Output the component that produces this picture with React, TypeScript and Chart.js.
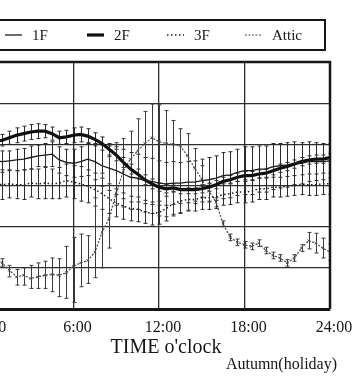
import { useEffect, useRef } from "react";
import { Chart, registerables } from "chart.js";

Chart.register(...registerables);

// time of day (hours), every 30 minutes
const HOURS = [0, 0.5, 1, 1.5, 2, 2.5, 3, 3.5, 4, 4.5, 5, 5.5, 6, 6.5, 7, 7.5, 8, 8.5, 9, 9.5, 10, 10.5, 11, 11.5, 12, 12.5, 13, 13.5, 14, 14.5, 15, 15.5, 16, 16.5, 17, 17.5, 18, 18.5, 19, 19.5, 20, 20.5, 21, 21.5, 22, 22.5, 23, 23.5, 24];

const SERIES_LABELS = ["1F", "2F", "3F", "Attic"];
const X_TITLE = "TIME o'clock";
const CAPTION = "Autumn(holiday)";

const F1 = [22.8, 23.0, 22.9, 23.0, 23.1, 23.2, 23.4, 23.6, 23.7, 23.8, 23.1, 22.8, 22.7, 22.9, 23.2, 22.9, 22.4, 22.1, 21.8, 21.4, 21.0, 20.9, 20.6, 20.5, 20.3, 20.2, 20.3, 20.3, 20.4, 20.4, 20.6, 20.7, 20.9, 21.2, 21.3, 21.6, 21.8, 21.8, 22.0, 22.0, 22.3, 22.4, 22.5, 22.7, 22.7, 22.9, 22.9, 22.9, 23.0];
const F2 = [25.3, 25.4, 25.5, 25.8, 26.1, 26.3, 26.5, 26.6, 26.6, 26.3, 25.8, 25.9, 26.1, 26.2, 26.0, 25.6, 25.1, 24.4, 23.7, 22.8, 22.0, 21.4, 20.7, 20.2, 19.8, 19.6, 19.7, 19.5, 19.5, 19.5, 19.6, 19.8, 20.1, 20.5, 20.7, 21.0, 21.2, 21.2, 21.4, 21.5, 21.8, 22.1, 22.3, 22.6, 22.9, 23.1, 23.2, 23.2, 23.4];
const F3 = [20.2, 20.2, 20.1, 20.2, 20.1, 20.1, 20.3, 20.2, 20.3, 20.2, 20.3, 20.6, 20.4, 20.2, 19.9, 19.5, 19.0, 18.4, 17.9, 17.5, 17.2, 17.1, 16.8, 16.6, 16.7, 17.2, 17.8, 18.1, 18.3, 18.3, 18.5, 18.5, 18.6, 18.9, 19.0, 19.2, 19.2, 19.3, 19.6, 19.6, 19.8, 19.8, 19.9, 20.0, 20.1, 20.1, 20.1, 20.2, 20.2];
const ATTIC = [11.4, 11.1, 10.6, 9.7, 8.9, 9.1, 8.7, 8.9, 9.1, 9.2, 9.1, 9.4, 10.2, 10.6, 10.9, 11.9, 14.3, 16.0, 19.1, 21.8, 23.2, 24.2, 25.1, 25.8, 25.3, 25.1, 25.0, 24.8, 23.6, 22.1, 20.8, 19.3, 18.0, 15.3, 13.7, 13.1, 12.8, 12.6, 13.0, 12.1, 11.5, 11.2, 10.6, 11.2, 12.4, 13.3, 13.0, 12.4, 11.9];

// spread (± around the mean) for the floors
const F1_ERR = [1.3, 1.3, 1.3, 1.2, 1.3, 1.3, 1.4, 1.3, 1.4, 1.5, 1.6, 1.6, 1.7, 1.8, 2.0, 2.2, 2.5, 2.7, 2.9, 3.0, 3.0, 2.9, 2.8, 2.8, 2.7, 2.6, 2.6, 2.5, 2.5, 2.6, 2.6, 2.7, 2.7, 2.8, 2.8, 2.8, 2.9, 2.9, 2.8, 2.8, 2.8, 2.7, 2.7, 2.6, 2.5, 2.4, 2.3, 2.2, 2.1];
const F2_ERR = [0.5, 0.6, 0.7, 0.8, 0.9, 0.9, 0.9, 0.9, 0.8, 0.8, 0.8, 0.8, 0.9, 0.9, 0.9, 0.8, 0.8, 0.7, 0.7, 0.6, 0.6, 0.6, 0.6, 0.6, 0.5, 0.5, 0.5, 0.5, 0.5, 0.5, 0.5, 0.5, 0.5, 0.5, 0.5, 0.5, 0.5, 0.5, 0.5, 0.5, 0.5, 0.5, 0.5, 0.5, 0.5, 0.5, 0.5, 0.5, 0.5];
const F3_ERR = [1.7, 1.7, 1.8, 1.7, 1.7, 1.8, 1.7, 1.8, 1.9, 1.8, 1.9, 2.0, 2.0, 2.1, 2.0, 2.0, 1.9, 1.8, 1.7, 1.6, 1.5, 1.5, 1.4, 1.4, 1.4, 1.5, 1.5, 1.5, 1.4, 1.4, 1.4, 1.4, 1.4, 1.3, 1.3, 1.3, 1.3, 1.3, 1.3, 1.3, 1.2, 1.2, 1.2, 1.2, 1.2, 1.3, 1.3, 1.3, 1.3];
// attic range (max / min)
const ATTIC_HI = [11.9, 11.6, 11.1, 10.3, 9.8, 10.0, 10.3, 10.6, 10.8, 11.2, 11.1, 12.6, 13.7, 14.1, 13.9, 18.5, 21.5, 23.5, 25.2, 25.7, 26.6, 28.1, 29.0, 29.9, 29.8, 29.1, 27.9, 26.9, 26.3, 24.5, 22.4, 20.2, 18.5, 15.7, 14.1, 13.5, 13.2, 13.0, 13.4, 12.5, 11.9, 11.6, 11.0, 11.6, 12.8, 14.3, 14.2, 13.6, 12.9];
const ATTIC_LO = [10.9, 10.6, 10.2, 8.9, 7.9, 7.9, 7.5, 7.5, 7.5, 7.1, 6.5, 6.3, 5.8, 7.7, 8.1, 8.8, 10.0, 12.4, 17.6, 17.4, 17.1, 17.1, 16.8, 16.6, 16.3, 16.2, 16.5, 16.7, 17.0, 18.1, 18.6, 18.1, 17.4, 15.0, 13.3, 12.7, 12.4, 12.2, 12.6, 11.7, 11.1, 10.8, 10.2, 10.8, 12.0, 12.3, 11.8, 11.2, 10.9];

const X_MIN = 0;
const X_MAX = 24;
const X_STEP = 6;
const Y_MIN = 5;
const Y_MAX = 35;
const Y_STEP = 5;

const SERIF = '"Liberation Serif", "DejaVu Serif", "Times New Roman", serif';
const INK = "#161616";

const pts = (vals: number[]) => HOURS.map((h, i) => ({ x: h, y: vals[i] }));
const plus = (vals: number[], err: number[]) => vals.map((v, i) => v + err[i]);
const minus = (vals: number[], err: number[]) => vals.map((v, i) => v - err[i]);

const errorBarPlugin = {
  id: "errorBars",
  beforeDatasetsDraw(chart: any) {
    const { ctx, chartArea } = chart;
    const yScale = chart.scales.y;
    ctx.save();
    ctx.beginPath();
    ctx.rect(chartArea.left, chartArea.top, chartArea.right - chartArea.left, chartArea.bottom - chartArea.top);
    ctx.clip();
    chart.data.datasets.forEach((ds: any, i: number) => {
      const lo = ds.errLo;
      const hi = ds.errHi;
      if (!lo || !hi) return;
      const meta = chart.getDatasetMeta(i);
      ctx.strokeStyle = ds.errColor || "#2a2a2a";
      ctx.lineWidth = 1;
      meta.data.forEach((pt: any, j: number) => {
        const x = Math.round(pt.x) + 0.5;
        const y1 = yScale.getPixelForValue(lo[j]);
        const y2 = yScale.getPixelForValue(hi[j]);
        ctx.beginPath();
        ctx.moveTo(x, y1);
        ctx.lineTo(x, y2);
        ctx.moveTo(x - 2, y1);
        ctx.lineTo(x + 2, y1);
        ctx.moveTo(x - 2, y2);
        ctx.lineTo(x + 2, y2);
        ctx.stroke();
      });
    });
    ctx.restore();
  },
};

const framePlugin = {
  id: "frame",
  afterDraw(chart: any) {
    const { ctx, chartArea } = chart;
    ctx.save();
    ctx.strokeStyle = INK;
    ctx.lineWidth = 2.5;
    ctx.beginPath();
    ctx.moveTo(chartArea.left - 2, chartArea.top);
    ctx.lineTo(chartArea.right, chartArea.top);
    ctx.lineTo(chartArea.right, chartArea.bottom);
    ctx.stroke();
    ctx.restore();
  },
};

const legendBoxPlugin = {
  id: "legendBox",
  afterDraw(chart: any) {
    const { ctx, chartArea } = chart;
    const top = 20;
    const bottom = 50;
    const mid = (top + bottom) / 2;
    ctx.save();
    ctx.strokeStyle = INK;
    ctx.lineWidth = 2;
    ctx.strokeRect(0, top, chartArea.right - 5, bottom - top);
    const starts = [17, 99, 179, 257];
    ctx.font = `15px ${SERIF}`;
    ctx.textBaseline = "middle";
    ctx.textAlign = "left";
    chart.data.datasets.forEach((ds: any, i: number) => {
      const x0 = chartArea.left + starts[i];
      ctx.strokeStyle = ds.borderColor;
      ctx.lineWidth = ds.borderWidth;
      ctx.setLineDash(ds.borderDash || []);
      ctx.beginPath();
      ctx.moveTo(x0, mid);
      ctx.lineTo(x0 + 17, mid);
      ctx.stroke();
      ctx.setLineDash([]);
      ctx.fillStyle = INK;
      ctx.fillText(ds.label, x0 + 27, mid + 1);
    });
    ctx.restore();
  },
};

const captionPlugin = {
  id: "captions",
  afterDraw(chart: any) {
    const { ctx, chartArea } = chart;
    ctx.save();
    ctx.fillStyle = INK;
    ctx.textBaseline = "middle";
    ctx.textAlign = "center";
    ctx.font = `20px ${SERIF}`;
    ctx.fillText(X_TITLE, chartArea.left + 178, 348);
    ctx.textAlign = "right";
    ctx.font = `16px ${SERIF}`;
    ctx.fillText(CAPTION, chartArea.right + 7, 365);
    ctx.restore();
  },
};

export default function App() {
  const ref = useRef<HTMLCanvasElement>(null);

  useEffect(() => {
    if (!ref.current) return;
    const chart = new Chart(ref.current, {
      type: "line",
      data: {
        datasets: [
          {
            label: SERIES_LABELS[0],
            data: pts(F1),
            borderColor: "#1c1c1c",
            borderWidth: 1.3,
            pointRadius: 0,
            errLo: minus(F1, F1_ERR),
            errHi: plus(F1, F1_ERR),
          } as any,
          {
            label: SERIES_LABELS[1],
            data: pts(F2),
            borderColor: "#111",
            borderWidth: 3.2,
            pointRadius: 0,
            errLo: minus(F2, F2_ERR),
            errHi: plus(F2, F2_ERR),
          } as any,
          {
            label: SERIES_LABELS[2],
            data: pts(F3),
            borderColor: "#1c1c1c",
            borderWidth: 1.5,
            borderDash: [1.5, 2.5],
            pointRadius: 0,
            errLo: minus(F3, F3_ERR),
            errHi: plus(F3, F3_ERR),
          } as any,
          {
            label: SERIES_LABELS[3],
            data: pts(ATTIC),
            borderColor: "#4a4a4a",
            borderWidth: 1.2,
            borderDash: [2, 1.5],
            pointRadius: 1.8,
            pointStyle: "crossRot",
            pointBorderColor: "#4a4a4a",
            pointBorderWidth: 1,
            errLo: ATTIC_LO,
            errHi: ATTIC_HI,
            errColor: "#3a3a3a",
          } as any,
        ],
      },
      options: {
        responsive: false,
        animation: false,
        devicePixelRatio: 1,
        layout: { padding: { left: 28, right: 24, top: 62, bottom: 0 } },
        plugins: { legend: { display: false }, tooltip: { enabled: false }, title: { display: false } },
        elements: { line: { tension: 0 } },
        scales: {
          x: {
            type: "linear",
            min: X_MIN,
            max: X_MAX,
            afterFit: (scale: any) => {
              scale.height = 67;
              scale.paddingLeft = 0;
              scale.paddingRight = 0;
            },
            grid: { color: "#2e2e2e", lineWidth: 1.3, drawTicks: false },
            border: { display: true, color: INK, width: 3 },
            ticks: {
              stepSize: X_STEP,
              autoSkip: false,
              maxRotation: 0,
              padding: 9,
              labelOffset: 4,
              color: INK,
              font: { family: SERIF, size: 16 },
              callback: (v: any) => `${v}:00`,
            },
          },
          y: {
            type: "linear",
            min: Y_MIN,
            max: Y_MAX,
            afterFit: (scale: any) => {
              scale.width = 0;
            },
            grid: { color: "#2e2e2e", lineWidth: 1.3, drawTicks: false },
            border: { display: false },
            ticks: { display: false, stepSize: Y_STEP },
          },
        },
      } as any,
      plugins: [errorBarPlugin, framePlugin, legendBoxPlugin, captionPlugin],
    });
    return () => chart.destroy();
  }, []);

  return (
    <div style={{ position: "fixed", left: -40, top: 0, width: 394, height: 376, background: "#fff" }}>
      <canvas ref={ref} width={394} height={376} style={{ display: "block", width: 394, height: 376 }} />
    </div>
  );
}
